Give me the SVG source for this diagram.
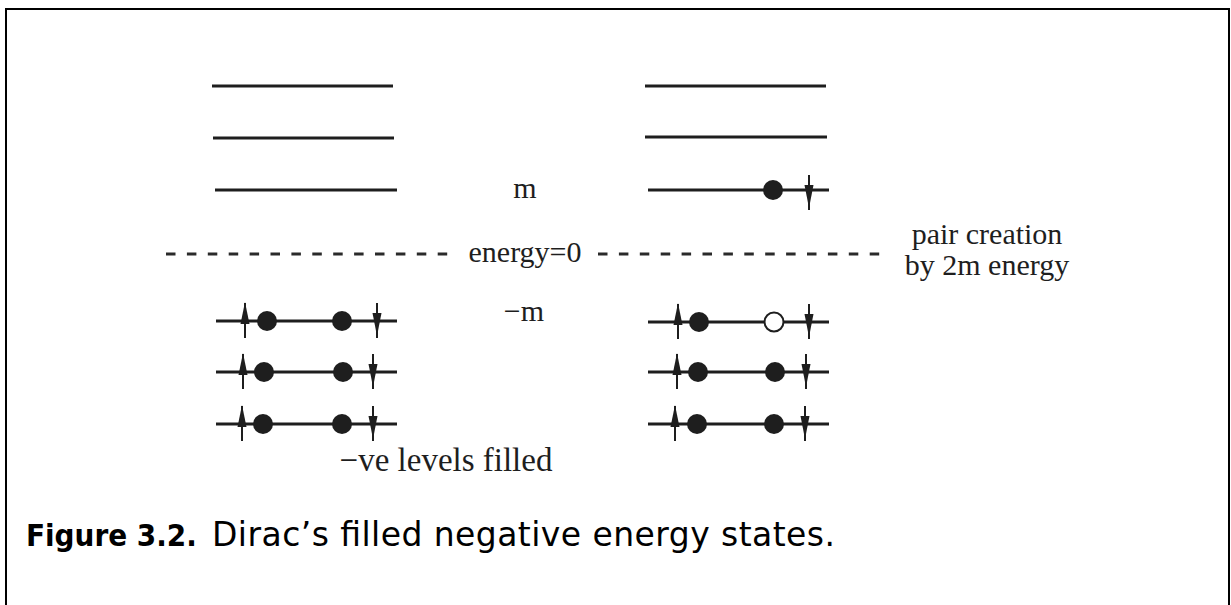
<svg xmlns="http://www.w3.org/2000/svg" xmlns:xlink="http://www.w3.org/1999/xlink" width="1231" height="605" viewBox="0 0 1231 605">
<style>
.lvl{stroke:#1e1e1e;stroke-width:3;fill:none}
.dash{stroke:#2a2a2a;stroke-width:3;stroke-dasharray:9.5 11.4;fill:none}
.t{font-family:"Liberation Serif","Times New Roman",serif;font-size:30px;fill:#1e1e1e}
.e{fill:#1e1e1e}
.h{fill:#fff;stroke:#1e1e1e;stroke-width:2}
.cap{font-family:"DejaVu Sans",sans-serif;font-size:33px;fill:#000}
.capb{font-family:"DejaVu Sans Condensed","DejaVu Sans",sans-serif;font-weight:bold;font-size:31px;fill:#000}
</style>
<defs>
<g id="up"><line x1="0" y1="-18" x2="0" y2="17" stroke="#1e1e1e" stroke-width="2"/><polygon points="0,-19 -4.5,3 4.5,3" fill="#1e1e1e"/></g>
<g id="down"><line x1="0" y1="-18" x2="0" y2="17" stroke="#1e1e1e" stroke-width="2"/><polygon points="0,15 -4.5,-8 4.5,-8" fill="#1e1e1e"/></g>
</defs>
<rect x="0" y="0" width="1231" height="605" fill="#fff"/>
<path d="M6,605 V9 H1229 V605" fill="none" stroke="#000" stroke-width="2"/>

<g id="left-positive">
<line class="lvl" x1="212" y1="86" x2="393" y2="86"/>
<line class="lvl" x1="213" y1="138" x2="394" y2="138"/>
<line class="lvl" x1="215" y1="190" x2="397" y2="190"/>
</g>
<g id="right-positive">
<line class="lvl" x1="645" y1="86" x2="826" y2="86"/>
<line class="lvl" x1="645" y1="137" x2="827" y2="137"/>
<line class="lvl" x1="648" y1="190" x2="829" y2="190"/>
<circle class="e" cx="773" cy="190" r="10"/>
<use xlink:href="#down" x="809" y="193"/>
</g>

<g id="zero-line">
<line class="dash" x1="166" y1="254" x2="448" y2="254"/>
<line class="dash" x1="598" y1="254" x2="880" y2="254"/>
</g>

<g id="labels">
<text class="t" x="525" y="198" text-anchor="middle">m</text>
<text class="t" x="525" y="262" text-anchor="middle">energy=0</text>
<text class="t" x="524" y="321" text-anchor="middle">−m</text>
<text class="t" x="987" y="244" text-anchor="middle">pair creation</text>
<text class="t" x="987" y="275" text-anchor="middle">by 2m energy</text>
<text class="t" x="446" y="471" text-anchor="middle" style="font-size:33px">−ve levels filled</text>
</g>

<g id="left-negative">
<line class="lvl" x1="216" y1="321" x2="397" y2="321"/>
<use xlink:href="#up" x="245" y="321"/>
<circle class="e" cx="267" cy="321" r="10"/>
<circle class="e" cx="342" cy="321" r="10"/>
<use xlink:href="#down" x="377" y="321"/>

<line class="lvl" x1="216" y1="372" x2="397" y2="372"/>
<use xlink:href="#up" x="243" y="372"/>
<circle class="e" cx="264" cy="372" r="10"/>
<circle class="e" cx="343" cy="372" r="10"/>
<use xlink:href="#down" x="373" y="372"/>

<line class="lvl" x1="216" y1="424" x2="397" y2="424"/>
<use xlink:href="#up" x="242" y="424"/>
<circle class="e" cx="263" cy="424" r="10"/>
<circle class="e" cx="342" cy="424" r="10"/>
<use xlink:href="#down" x="373" y="424"/>
</g>

<g id="right-negative">
<line class="lvl" x1="648" y1="322" x2="829" y2="322"/>
<use xlink:href="#up" x="678" y="322"/>
<circle class="e" cx="699" cy="322" r="10"/>
<circle class="h" cx="774" cy="322" r="9.5"/>
<use xlink:href="#down" x="809" y="322"/>

<line class="lvl" x1="648" y1="372" x2="829" y2="372"/>
<use xlink:href="#up" x="677" y="372"/>
<circle class="e" cx="698" cy="372" r="10"/>
<circle class="e" cx="775" cy="372" r="10"/>
<use xlink:href="#down" x="806" y="372"/>

<line class="lvl" x1="648" y1="424" x2="829" y2="424"/>
<use xlink:href="#up" x="675" y="424"/>
<circle class="e" cx="697" cy="424" r="10"/>
<circle class="e" cx="774" cy="424" r="10"/>
<use xlink:href="#down" x="805" y="424"/>
</g>

<g id="caption">
<text class="capb" x="26" y="546">Figure 3.2.</text>
<text class="cap" x="212" y="546" textLength="623" lengthAdjust="spacing">Dirac’s filled negative energy states.</text>
</g>
</svg>
